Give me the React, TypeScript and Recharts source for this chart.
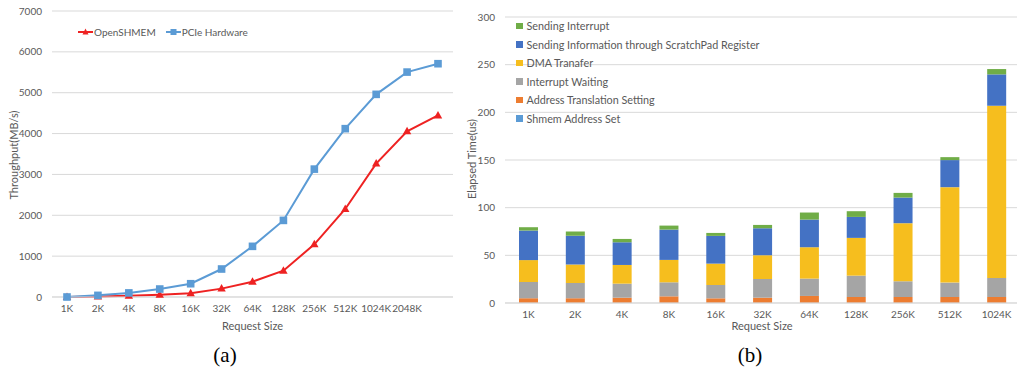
import React from 'react';
import { LineChart, Line, BarChart, Bar, XAxis, YAxis, CartesianGrid, Legend } from 'recharts';

// ---------- Chart (a) data ----------
const sizesA = ['1K', '2K', '4K', '8K', '16K', '32K', '64K', '128K', '256K', '512K', '1024K', '2048K', ''];
const openshmem = [0, 10, 30, 55, 90, 205, 375, 645, 1290, 2155, 3265, 4055, 4445];
const pcieHardware = [0, 40, 100, 195, 325, 685, 1240, 1875, 3130, 4120, 4960, 5505, 5710];
const throughputTicks = [0, 1000, 2000, 3000, 4000, 5000, 6000, 7000];

// ---------- Chart (b) data ----------
const sizesB = ['1K', '2K', '4K', '8K', '16K', '32K', '64K', '128K', '256K', '512K', '1024K'];
const shmemAddressSet = [0.3, 0.3, 0.3, 0.3, 0.3, 0.3, 0.3, 0.3, 0.3, 0.3, 0.3];
const addressTranslation = [4.7, 4.7, 5.3, 6.7, 4.6, 5.3, 7.1, 6.0, 6.0, 6.0, 6.0];
const interruptWaiting = [17, 16, 14.7, 14.7, 14, 19.6, 18.2, 22.4, 16.5, 15.1, 20];
const dmaTransfer = [23, 19.5, 19.6, 23.5, 22.4, 24.9, 32.9, 39.6, 60.9, 100.1, 180.6];
const scratchPadInfo = [31, 30, 23.8, 31.8, 29.1, 28.3, 29, 22, 26.9, 28.4, 32.9];
const sendingInterrupt = [3.5, 4.5, 3.5, 4.2, 3.1, 3.5, 7.4, 6, 4.9, 3.1, 5.6];
const elapsedTicks = [0, 50, 100, 150, 200, 250, 300];

// legend order, top to bottom
const barLegendOrder = ['sendint', 'scratch', 'dma', 'wait', 'addr', 'shmem'];

const lineData = sizesA.map((s, i) => ({ size: s, openshmem: openshmem[i], pcie: pcieHardware[i] }));
const barData = sizesB.map((s, i) => ({
  size: s,
  shmem: shmemAddressSet[i],
  addr: addressTranslation[i],
  wait: interruptWaiting[i],
  dma: dmaTransfer[i],
  scratch: scratchPadInfo[i],
  sendint: sendingInterrupt[i],
}));

const FONT = 'Lato, "Open Sans", sans-serif';
const TXT = '#595959';
const GRID = '#d9d9d9';
const RED = '#EE2222';
const BLUE = '#5B9BD5';

const Triangle = (props: any) => {
  const { cx, cy, key } = props;
  if (cx == null || cy == null) return null;
  return <path key={key} d={`M${cx},${cy - 4.5} L${cx - 4.2},${cy + 3} L${cx + 4.2},${cy + 3} Z`} fill={RED} />;
};
const Square = (props: any) => {
  const { cx, cy, key } = props;
  if (cx == null || cy == null) return null;
  return <rect key={key} x={cx - 3.8} y={cy - 3.8} width={7.6} height={7.6} fill={BLUE} />;
};

const LineLegend = (props: any) => {
  const { payload = [] } = props;
  const order = ['openshmem', 'pcie'];
  const items = [...payload].sort((a: any, b: any) => order.indexOf(a.dataKey) - order.indexOf(b.dataKey));
  return (
    <div style={{ display: 'flex', alignItems: 'center', fontFamily: FONT, fontSize: 10, color: TXT }}>
      {items.map((p: any) => {
        const isRed = p.dataKey === 'openshmem';
        return (
          <div key={p.value} style={{ display: 'flex', alignItems: 'center', marginRight: 10 }}>
            <svg width={15} height={10} style={{ marginRight: 1 }}>
              <line x1={0} y1={5} x2={15} y2={5} stroke={p.color} strokeWidth={2} />
              {isRed ? (
                <path d="M7.5,1.5 L4.5,7.5 L10.5,7.5 Z" fill={p.color} />
              ) : (
                <rect x={4.5} y={2} width={6} height={6} fill={p.color} />
              )}
            </svg>
            <span>{p.value}</span>
          </div>
        );
      })}
    </div>
  );
};

const BarLegend = (props: any) => {
  const { payload = [] } = props;
  const items = [...payload].sort(
    (a: any, b: any) => barLegendOrder.indexOf(a.dataKey) - barLegendOrder.indexOf(b.dataKey)
  );
  return (
    <div style={{ display: 'flex', flexDirection: 'column', fontFamily: FONT, fontSize: 10.8, color: TXT }}>
      {items.map((p: any) => (
        <div key={p.value} style={{ display: 'flex', alignItems: 'center', height: 18.5, whiteSpace: 'nowrap' }}>
          <span style={{ display: 'inline-block', width: 6.5, height: 6.5, background: p.color, marginRight: 4 }} />
          <span>{p.value}</span>
        </div>
      ))}
    </div>
  );
};

export default function App() {
  const tick = { fill: TXT, fontSize: 10, fontFamily: FONT };
  return (
    <div style={{ position: 'absolute', left: 0, top: 0, width: 1017, height: 369, overflow: 'hidden', background: '#fff' }}>
      <div style={{ position: 'absolute', left: 0, top: 0 }}>
        <LineChart width={455} height={340} data={lineData} margin={{ top: 11, right: 2, bottom: 13, left: 0 }}>
          <CartesianGrid vertical={false} stroke={GRID} />
          <XAxis
            dataKey="size"
            interval={0}
            padding={{ left: 15, right: 15 }}
            tick={tick}
            tickLine={false}
            axisLine={{ stroke: GRID }}
          />
          <YAxis
            width={52}
            domain={[0, 7000]}
            ticks={throughputTicks}
            tick={tick}
            tickLine={false}
            axisLine={false}
            tickMargin={4}
          />
          <Legend
            layout="vertical"
            align="center"
            verticalAlign="middle"
            wrapperStyle={{ left: 78, top: 26, width: 'auto' }}
            content={<LineLegend />}
          />
          <Line
            dataKey="openshmem"
            name="OpenSHMEM"
            stroke={RED}
            strokeWidth={2}
            dot={Triangle}
            activeDot={false}
            isAnimationActive={false}
          />
          <Line
            dataKey="pcie"
            name="PCIe Hardware"
            stroke={BLUE}
            strokeWidth={2}
            dot={Square}
            activeDot={false}
            isAnimationActive={false}
          />
        </LineChart>
      </div>
      <div style={{ position: 'absolute', left: 455, top: 0 }}>
        <BarChart width={565} height={340} data={barData} margin={{ top: 17, right: 0, bottom: 7, left: 0 }} barSize={19}>
          <CartesianGrid vertical={false} stroke={GRID} />
          <XAxis dataKey="size" interval={0} tick={tick} tickLine={false} axisLine={{ stroke: GRID }} />
          <YAxis
            width={50}
            domain={[0, 300]}
            ticks={elapsedTicks}
            tick={tick}
            tickLine={false}
            axisLine={false}
            tickMargin={4}
          />
          <Legend
            layout="vertical"
            align="center"
            verticalAlign="middle"
            wrapperStyle={{ left: 61, top: 16.5, width: 'auto' }}
            content={<BarLegend />}
          />
          <Bar dataKey="shmem" name="Shmem Address Set" stackId="a" fill="#5B9BD5" isAnimationActive={false} />
          <Bar dataKey="addr" name="Address Translation Setting" stackId="a" fill="#ED7D31" isAnimationActive={false} />
          <Bar dataKey="wait" name="Interrupt Waiting" stackId="a" fill="#A5A5A5" isAnimationActive={false} />
          <Bar dataKey="dma" name="DMA Tranafer" stackId="a" fill="#F6BE1E" isAnimationActive={false} />
          <Bar dataKey="scratch" name="Sending Information through ScratchPad Register" stackId="a" fill="#4472C4" isAnimationActive={false} />
          <Bar dataKey="sendint" name="Sending Interrupt" stackId="a" fill="#70AD47" isAnimationActive={false} />
        </BarChart>
      </div>
      <svg width={1017} height={369} style={{ position: 'absolute', left: 0, top: 0, pointerEvents: 'none' }}>
        <text x={252.5} y={325.5} textAnchor="middle" dominantBaseline="central" fontFamily={FONT} fontSize={11} fill={TXT}>Request Size</text>
        <text x={762} y={325.5} textAnchor="middle" dominantBaseline="central" fontFamily={FONT} fontSize={11} fill={TXT}>Request Size</text>
        <text x={13.5} y={155} textAnchor="middle" dominantBaseline="central" fontFamily={FONT} fontSize={11} fill={TXT} transform="rotate(-90 13.5 155)">Throughput(MB/s)</text>
        <text x={471} y={159} textAnchor="middle" dominantBaseline="central" fontFamily={FONT} fontSize={11} fill={TXT} transform="rotate(-90 471 159)">Elapsed Time(us)</text>
        <text x={225} y={355} textAnchor="middle" dominantBaseline="central" fontFamily="'Liberation Serif', 'DejaVu Serif', serif" fontSize={21} fill="#000">(a)</text>
        <text x={750} y={355} textAnchor="middle" dominantBaseline="central" fontFamily="'Liberation Serif', 'DejaVu Serif', serif" fontSize={21} fill="#000">(b)</text>
      </svg>
    </div>
  );
}
